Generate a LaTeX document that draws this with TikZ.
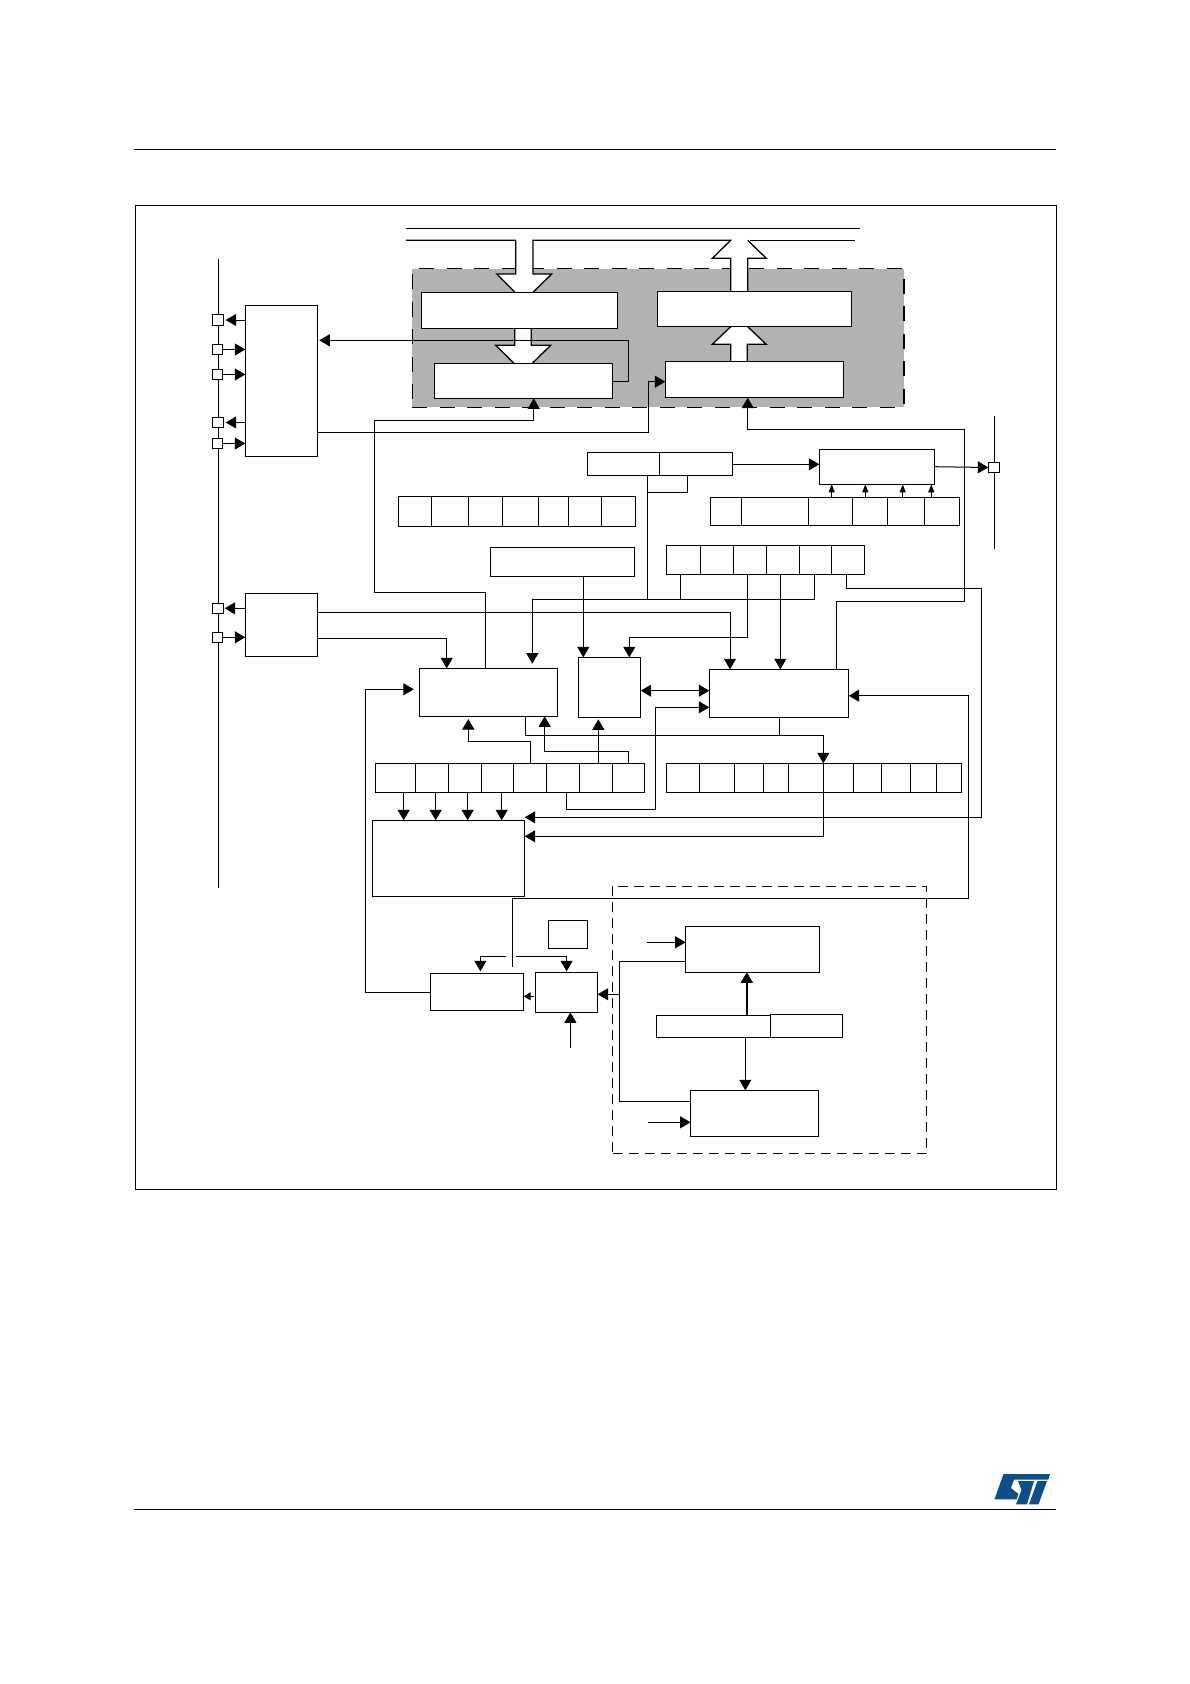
\documentclass[tikz,border=0pt]{standalone}
\usetikzlibrary{arrows.meta}
\definecolor{memgray}{HTML}{B2B2B2}
\definecolor{logoblue}{HTML}{0C4E8C}
\tikzset{
  >={Triangle[length=10.5,width=12]},
  every path/.style={line width=1pt},
  blk/.style={draw,fill=white,inner sep=0pt,outer sep=0pt,anchor=north west},
  pin/.style={draw,fill=white,inner sep=0pt,outer sep=0pt,minimum height=10.4},
  tinyarr/.style={-{Triangle[length=8,width=6]}},
  shortarr/.style={-{Triangle[length=7,width=8]}},
  memline/.style={line width=1.3pt}
}
\begin{document}
\begin{tikzpicture}[x=1pt,y=-1pt]
            \useasboundingbox (0,0) rectangle (1190,1684);

            % Page furniture
            \coordinate (headL) at (134,149.3);
            \coordinate (headR) at (1056,149.3);
            \coordinate (footL) at (134,1509);
            \coordinate (footR) at (1056,1509);
            \draw (headL) -- (headR);
            \draw (footL) -- (footR);
            \node[blk,fill=none,minimum width=921.4,minimum height=984] (frame) at (135.3,205.3) {};

            % Logo
            \fill[logoblue] (1003.5,1474) -- (1050,1474) -- (1048.3,1479.5) -- (1014,1479.5)
                -- (1011,1488) -- (1018.5,1494) -- (1016.5,1499.3) -- (994.5,1499.3) -- cycle;
            \fill[logoblue] (1018,1481) -- (1034,1481) -- (1027,1504.3) -- (1016,1504.3) -- (1021.5,1490) -- cycle;
            \fill[logoblue] (1037.5,1481) -- (1047,1481) -- (1038.5,1504.3) -- (1029,1504.3) -- cycle;

            % Gray memory area
            \node[blk,fill=memgray,line width=1.3pt,dash pattern=on 15pt off 12.5pt,minimum width=491.6,minimum height=138.6] (memarea) at (412.3,268.7) {};

            % Wide white arrows
            \fill[white] (515.7,266) -- (533,266) -- (533,274) -- (551.7,274) -- (533,292.3)
                -- (515,292.3) -- (496.7,274) -- (515.7,274) -- cycle;
            \fill[white] (514.7,328.3) -- (531.3,328.3) -- (531.3,345.3) -- (550.7,345.3) -- (532.3,363.3)
                -- (514,363.3) -- (495.7,345.3) -- (514.7,345.3) -- cycle;
            \fill[white] (730.7,266) rectangle (747.7,291.3);
            \fill[white] (730.7,361.3) -- (747.3,361.3) -- (747.3,344.3) -- (766.3,344.3) -- (747.7,326.7)
                -- (730.7,326.7) -- (712.3,344.3) -- (730.7,344.3) -- cycle;

            % Bus lines at the top
            \draw (406,228.3) -- (860,228.3);
            \draw[memline] (406,240.3) -- (515.7,240.3) -- (515.7,274) -- (496.7,274) -- (515,292.3);
            \draw[memline] (533,292.3) -- (551.7,274) -- (533,274) -- (533,240.3) -- (730.7,240.3)
                -- (712.3,258.3) -- (730.7,258.3) -- (730.7,291.3);
            \draw[memline] (747.7,291.3) -- (747.7,258.3) -- (766.3,258.3) -- (747.7,240.3);
            \draw[memline] (750,240.3) -- (855,240.3);

            % Memory blocks
            \node[blk,minimum width=196.4,minimum height=36] (memA) at (421.3,292.3) {};
            \node[blk,minimum width=178.4,minimum height=35] (memB) at (434.3,363.3) {};
            \node[blk,minimum width=194.4,minimum height=35.4] (memC) at (657.3,291.3) {};
            \node[blk,minimum width=178.4,minimum height=36.4] (memD) at (665.3,361.3) {};

            % Between the memory blocks
            \draw[memline] (514.7,328.3) -- (514.7,345.3) -- (495.7,345.3) -- (514,363.3);
            \draw[memline] (532.3,363.3) -- (550.7,345.3) -- (531.3,345.3) -- (531.3,328.3);
            \draw[memline] (730.7,361.3) -- (730.7,344.3) -- (712.3,344.3) -- (730.7,326.7);
            \draw[memline] (747.7,326.7) -- (766.3,344.3) -- (747.3,344.3) -- (747.3,361.3);

            % Left side pins
            \node[blk,minimum width=72.4,minimum height=151] (ctrlA) at (245.3,305.3) {};
            \node[blk,minimum width=72.4,minimum height=63] (ctrlB) at (245.3,593.3) {};
            \coordinate (busLtop) at (218.3,259.3);
            \coordinate (busLbot) at (218.3,887.7);
            \draw (busLtop) -- (busLbot);
            \node[pin,minimum width=11.4] (pinA) at (218,320) {};
            \node[pin,minimum width=10.4] (pinB) at (217.5,349.5) {};
            \node[pin,minimum width=10.4] (pinC) at (217.5,374.5) {};
            \node[pin,minimum width=11.4] (pinD) at (218,422.5) {};
            \node[pin,minimum width=10.4] (pinE) at (217.5,443.5) {};
            \node[pin,minimum width=11.4] (pinF) at (218,608.3) {};
            \node[pin,minimum width=10.4] (pinG) at (217.5,637.3) {};
            \draw[->,shorten >=2] (ctrlA.west |- pinA) -- (pinA);
            \draw[->] (pinB) -- (ctrlA.west |- pinB);
            \draw[->] (pinC) -- (ctrlA.west |- pinC);
            \draw[->,shorten >=2] (ctrlA.west |- pinD) -- (pinD);
            \draw[->] (pinE) -- (ctrlA.west |- pinE);
            \draw[->,shorten >=1] (ctrlB.west |- pinF) -- (pinF);
            \draw[->] (pinG) -- (ctrlB.west |- pinG);

            % Right side pin
            \node[blk,minimum width=115.4,minimum height=35] (outA) at (819.3,449.3) {};
            \coordinate (busRtop) at (994.3,416);
            \coordinate (busRbot) at (994.3,548.7);
            \draw (busRtop) -- (busRbot);
            \node[pin,minimum width=11.4] (pinH) at (994,467.5) {};
            \draw[->] (outA.east |- 0,466.7) -- (pinH.west);

            % Split register above
            \node[blk,minimum width=72,minimum height=23.4] (splitA) at (587.3,452.3) {};
            \node[blk,minimum width=73.4,minimum height=23.4] (splitB) at (659.3,452.3) {};
            \draw[->] (splitB.east |- 0,464.3) -- (outA.west |- 0,464.3);
            \node[blk,minimum width=144.4,minimum height=29] (boxJ) at (490.3,547.3) {};

            % First register row
            \node[blk,minimum width=33.4,minimum height=30] (regA1) at (398.3,496.3) {};
            \node[blk,minimum width=37,minimum height=30] (regA2) at (431.7,496.3) {};
            \node[blk,minimum width=34,minimum height=30] (regA3) at (468.7,496.3) {};
            \node[blk,minimum width=36,minimum height=30] (regA4) at (502.7,496.3) {};
            \node[blk,minimum width=30,minimum height=30] (regA5) at (538.7,496.3) {};
            \node[blk,minimum width=33,minimum height=30] (regA6) at (568.7,496.3) {};
            \node[blk,minimum width=34,minimum height=30] (regA7) at (601.7,496.3) {};

            % Register row feeding the output block
            \node[blk,minimum width=31.4,minimum height=28] (regB1) at (710.3,497.3) {};
            \node[blk,minimum width=66.6,minimum height=28] (regB2) at (741.7,497.3) {};
            \node[blk,minimum width=44.4,minimum height=28] (regB3) at (808.3,497.3) {};
            \node[blk,minimum width=35,minimum height=28] (regB4) at (852.7,497.3) {};
            \node[blk,minimum width=37,minimum height=28] (regB5) at (887.7,497.3) {};
            \node[blk,minimum width=35,minimum height=28] (regB6) at (924.7,497.3) {};
            \draw[tinyarr] (831.7,0 |- regB3.north) -- (831.7,0 |- outA.south);
            \draw[tinyarr] (865.3,0 |- regB4.north) -- (865.3,0 |- outA.south);
            \draw[tinyarr] (902.7,0 |- regB5.north) -- (902.7,0 |- outA.south);
            \draw[tinyarr] (931.3,0 |- regB6.north) -- (931.3,0 |- outA.south);

            % Control register row
            \node[blk,minimum width=34.4,minimum height=29] (regC1) at (666.3,545.3) {};
            \node[blk,minimum width=32.6,minimum height=29] (regC2) at (700.7,545.3) {};
            \node[blk,minimum width=33.4,minimum height=29] (regC3) at (733.3,545.3) {};
            \node[blk,minimum width=32.6,minimum height=29] (regC4) at (766.7,545.3) {};
            \node[blk,minimum width=32.4,minimum height=29] (regC5) at (799.3,545.3) {};
            \node[blk,minimum width=33,minimum height=29] (regC6) at (831.7,545.3) {};

            % Centre blocks
            \node[blk,minimum width=138.4,minimum height=48] (blkF) at (419.3,668.3) {};
            \node[blk,minimum width=62.4,minimum height=60] (blkI) at (578.3,657.3) {};
            \node[blk,minimum width=139.4,minimum height=48] (blkG) at (709.3,669.3) {};
            \node[blk,minimum width=152.4,minimum height=76] (blkL) at (372.3,820.3) {};

            % Lower left register row
            \node[blk,minimum width=40,minimum height=29] (regD1) at (375.3,763.3) {};
            \node[blk,minimum width=33,minimum height=29] (regD2) at (415.3,763.3) {};
            \node[blk,minimum width=33,minimum height=29] (regD3) at (448.3,763.3) {};
            \node[blk,minimum width=32.4,minimum height=29] (regD4) at (481.3,763.3) {};
            \node[blk,minimum width=33,minimum height=29] (regD5) at (513.7,763.3) {};
            \node[blk,minimum width=32.6,minimum height=29] (regD6) at (546.7,763.3) {};
            \node[blk,minimum width=33.4,minimum height=29] (regD7) at (579.3,763.3) {};
            \node[blk,minimum width=32,minimum height=29] (regD8) at (612.7,763.3) {};

            % Lower right register row
            \node[blk,minimum width=33,minimum height=29] (regE1) at (666.3,763.3) {};
            \node[blk,minimum width=35.4,minimum height=29] (regE2) at (699.3,763.3) {};
            \node[blk,minimum width=29,minimum height=29] (regE3) at (734.7,763.3) {};
            \node[blk,minimum width=25,minimum height=29] (regE4) at (763.7,763.3) {};
            \node[blk,minimum width=34.6,minimum height=29] (regE5) at (788.7,763.3) {};
            \node[blk,minimum width=30,minimum height=29] (regE6) at (823.3,763.3) {};
            \node[blk,minimum width=28,minimum height=29] (regE7) at (853.3,763.3) {};
            \node[blk,minimum width=29.4,minimum height=29] (regE8) at (881.3,763.3) {};
            \node[blk,minimum width=26,minimum height=29] (regE9) at (910.7,763.3) {};
            \node[blk,minimum width=25,minimum height=29] (regE10) at (936.7,763.3) {};

            % Links around the memory area
            \draw[->,shorten >=1.6] (memB.east |- 0,381.7) -| (628.7,340.3) -- (ctrlA.east |- 0,340.3);
            \draw[->] (ctrlA.east |- 0,432.3) -| (648.7,381.7) -- (memD.west |- 0,381.7);
            \draw[->] (485.7,0 |- blkF.north) |- (374.3,592.3) |- (533.7,420.3) -- (533.7,0 |- memB.south);
            \draw[->] (836.3,0 |- blkG.north) |- (964.7,601.3) |- (747.7,429.3) -- (747.7,0 |- memD.south);

            % Links from the split register and the control row
            \draw (680.3,0 |- regC1.south) -- (680.3,599.3);
            \draw (647.3,0 |- splitA.south) -- (647.3,599.3);
            \draw (647.3,492.3) -| (687.3,0 |- splitB.south);
            \draw[->,shorten >=4.6] (814.3,0 |- regC5.south) |- (532.3,599.3) -- (532.3,0 |- blkF.north);
            \draw[->] (747.3,0 |- regC3.south) |- (629.3,637.3) -- (629.3,0 |- blkI.north);
            \draw[->] (780.3,0 |- regC4.south) -- (780.3,0 |- blkG.north);
            \draw[->] (846.7,0 |- regC6.south) |- (981.3,588.3) |- (blkL.east |- 0,817.3);
            \draw[->] (583.3,0 |- boxJ.south) -- (583.3,0 |- blkI.north);

            % Links around the centre blocks
            \draw[->] (ctrlB.east |- 0,612.3) -| (730,0 |- blkG.north);
            \draw[->] (ctrlB.east |- 0,638.3) -| (446.7,0 |- blkF.north);
            \draw[<->] (blkI.east |- 0,690.7) -- (blkG.west |- 0,690.7);
            \draw[->] (525.7,0 |- blkF.south) |- (regE6.north west |- 0,735.3) -- (regE6.north west);
            \draw (blkG.south) -- (blkG.south |- 0,735.3);
            \draw[->] (regE6.south west) |- (blkL.east |- 0,836.3);

            % Links from the lower left row
            \draw[->] (403.7,0 |- regD1.south) -- (403.7,0 |- blkL.north);
            \draw[->] (435.7,0 |- regD2.south) -- (435.7,0 |- blkL.north);
            \draw[->] (467.7,0 |- regD3.south) -- (467.7,0 |- blkL.north);
            \draw[->] (501.7,0 |- regD4.south) -- (501.7,0 |- blkL.north);
            \draw[->,shorten >=2.7] (regD5.north) -- (regD5.north |- 0,741.7) -| (468.3,0 |- blkF.south);
            \draw[->,shorten >=2] (598.3,0 |- regD7.north) -- (598.3,0 |- blkI.south);
            \draw[->] (regD8.north) -- (regD8.north |- 0,751.7) -| (544.7,0 |- blkF.south);
            \draw[->] (566.7,0 |- regD6.south) |- (655.3,809.3) |- (blkG.west |- 0,707.3);

            % Bottom blocks
            \node[blk,minimum width=93.4,minimum height=37] (blkK) at (430.3,973.3) {};
            \node[blk,minimum width=62,minimum height=40] (blkM) at (535.6,972.3) {};
            \node[blk,minimum width=39,minimum height=28.4] (blkU) at (548.6,920.3) {};
            \draw[->,shorten >=5.5] (blkK.west |- 0,992.3) -| (365.5,689.3) -- (blkF.west |- 0,689.3);
            \coordinate (selLine) at (512.6,966.7);
            \coordinate (selK) at (506,956.3);
            \coordinate (selM) at (516,956.3);
            \coordinate (selIn) at (570.4,1047.7);
            \coordinate (selOut) at (533.6,996.3);
            \draw[->] (selLine) |- (968.7,898.3) |- (blkG.east |- 0,695.7);
            \draw[->,shorten >=2] (selK) -| (480.4,0 |- blkK.north);
            \draw[->,shorten >=1] (selM) -| (566.6,0 |- blkM.north);
            \draw[->] (selIn) -- (selIn |- blkM.south);
            \draw[shortarr] (selOut) -- (blkK.east |- selOut);

            % Dashed group
            \node[blk,fill=none,dash pattern=on 10pt off 6pt,minimum width=314.2,minimum height=267.3] (groupT) at (612.5,886) {};
            \node[blk,minimum width=133.9,minimum height=46] (blkV) at (685.6,926.3) {};
            \node[blk,minimum width=127.8,minimum height=46] (blkW) at (690.6,1090.3) {};
            \node[blk,minimum width=72.4,minimum height=23] (splitD) at (770.5,1014.3) {};
            \node[blk,minimum width=114,minimum height=22] (splitC) at (656.5,1015.3) {};
            \coordinate (clkV) at (647,942.3);
            \coordinate (clkW) at (648,1122.3);
            \draw[->] (clkV) -- (blkV.west |- clkV);
            \draw[->] (clkW) -- (blkW.west |- clkW);
            \draw[->,line width=1.8pt] (746.8,0 |- splitC.north) -- (746.8,0 |- blkV.south);
            \draw[->] (745.3,0 |- splitC.south) -- (745.3,0 |- blkW.north);
            \draw (blkV.west |- 0,961) -| (619.4,1101.3) -- (blkW.west |- 0,1101.3);
            \draw[->] (619.4,994.3) -- (blkM.east |- 0,994.3);
\end{tikzpicture}
\end{document}
